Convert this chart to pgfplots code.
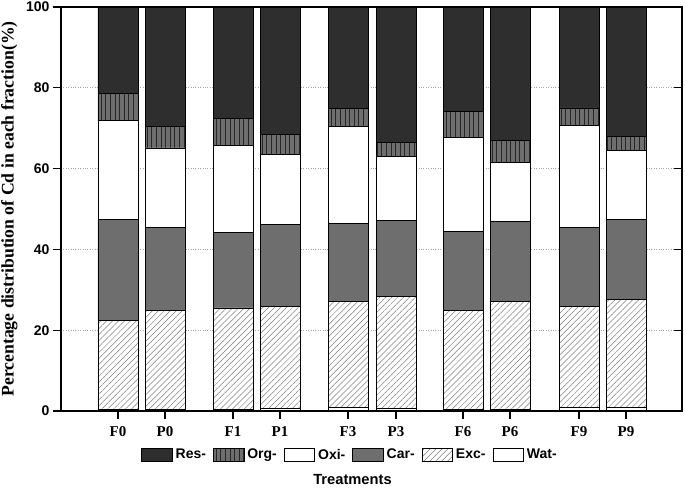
\documentclass[border=0pt]{standalone}
\usepackage{fontspec}
\setmainfont{Liberation Serif}
\setsansfont{Liberation Sans}
\usepackage{pgfplots}
\pgfplotsset{compat=1.18}
\usepackage{pgfplotstable}
\usetikzlibrary{patterns,patterns.meta}
\definecolor{resc}{HTML}{2E2E2E}
\definecolor{carc}{HTML}{6E6E6E}

\pgfplotstableread{
x   Wat Exc  Car  Oxi  Org Res
118 0.4 22.0 25.0 24.4 6.9 21.3
165 0.5 24.4 20.6 19.6 5.4 29.5
233 0.4 25.1 18.6 21.7 6.6 27.6
280 0.6 25.3 20.3 17.2 5.0 31.6
348 0.8 26.3 19.3 24.1 4.4 25.1
396 0.6 27.7 18.8 15.9 3.4 33.6
463 0.5 24.3 19.7 23.2 6.5 25.8
510 0.4 26.6 19.9 14.7 5.3 33.1
579 0.9 24.9 19.7 25.2 4.3 25.0
626 0.9 26.8 19.7 17.2 3.3 32.1
}\data

\begin{document}
\begin{tikzpicture}
\begin{axis}[
  name=main,
  scale only axis,
  width=621pt, height=404pt,
  xmin=61, xmax=682, ymin=0, ymax=100,
  ybar stacked, bar width=40pt,
  xtick={118,165,233,280,348,396,463,510,579,626},
  xticklabels={F0,P0,F1,P1,F3,P3,F6,P6,F9,P9},
  x tick label style={font=\rmfamily\bfseries\fontsize{15}{15}\selectfont, yshift=-4pt},
  ytick={0,20,40,60,80,100},
  y tick label style={font=\sffamily\bfseries\fontsize{14}{14}\selectfont},
  /pgf/number format/assume math mode=true,
  xtick pos=bottom, ytick pos=left,
  tick align=outside,
  major tick length=8pt,
  every tick/.style={black, line width=1.1pt},
  axis line style={line width=1.1pt},
  ymajorgrids,
  grid style={gray!70, dotted, line width=0.6pt},
  ylabel={Percentage distribution of Cd in each fraction(\%)},
  ylabel style={font=\rmfamily\bfseries\fontsize{17.7}{17.7}\selectfont, at={(axis description cs:-0.083,0.5)}, anchor=center},
  xlabel={Treatments},
  xlabel style={font=\sffamily\bfseries\fontsize{14.7}{14.7}\selectfont, at={(axis description cs:0.4694,-0.1708)}, anchor=center},
  legend columns=6,
  reverse legend,
  legend style={draw=none, at={(0.4654,-0.1085)}, anchor=center,
    font=\sffamily\bfseries\fontsize{14}{14}\selectfont,
    /tikz/every even column/.append style={column sep=5pt},
    /tikz/every odd column/.append style={column sep=1pt}},
  legend image code/.code={\draw[#1, line width=0.8pt] (0pt,-6.3pt) rectangle (30.5pt,6.3pt);},
  every axis plot/.append style={draw=black, line width=0.9pt},
]
\addplot[fill=white] table[x=x,y=Wat]{\data};
\addlegendentry{Wat-}
\addplot[fill=white, postaction={pattern={Lines[angle=45,distance=4.2pt,line width=0.5pt]}, pattern color=gray}] table[x=x,y=Exc]{\data};
\addlegendentry{Exc-}
\addplot[fill=carc] table[x=x,y=Car]{\data};
\addlegendentry{Car-}
\addplot[fill=white] table[x=x,y=Oxi]{\data};
\addlegendentry{Oxi-}
\addplot[fill=carc, postaction={pattern={Lines[angle=90,distance=4.6pt,line width=0.9pt]}, pattern color=black!85}] table[x=x,y=Org]{\data};
\addlegendentry{Org-}
\addplot[fill=resc] table[x=x,y=Res]{\data};
\addlegendentry{Res-}
\end{axis}
\begin{axis}[
  scale only axis,
  width=621pt, height=404pt,
  xmin=61, xmax=682, ymin=0, ymax=100,
  xtick=\empty,
  ytick pos=right,
  ytick={0,20,40,60,80,100},
  yticklabels={},
  tick align=inside,
  major tick length=8pt,
  every tick/.style={black, line width=1.1pt},
  axis line style={line width=1.1pt},
]
\end{axis}
\pgfresetboundingbox
\path ([xshift=-61pt,yshift=-76pt]main.south west) rectangle ([xshift=3pt,yshift=7pt]main.north east);
\end{tikzpicture}
\end{document}
